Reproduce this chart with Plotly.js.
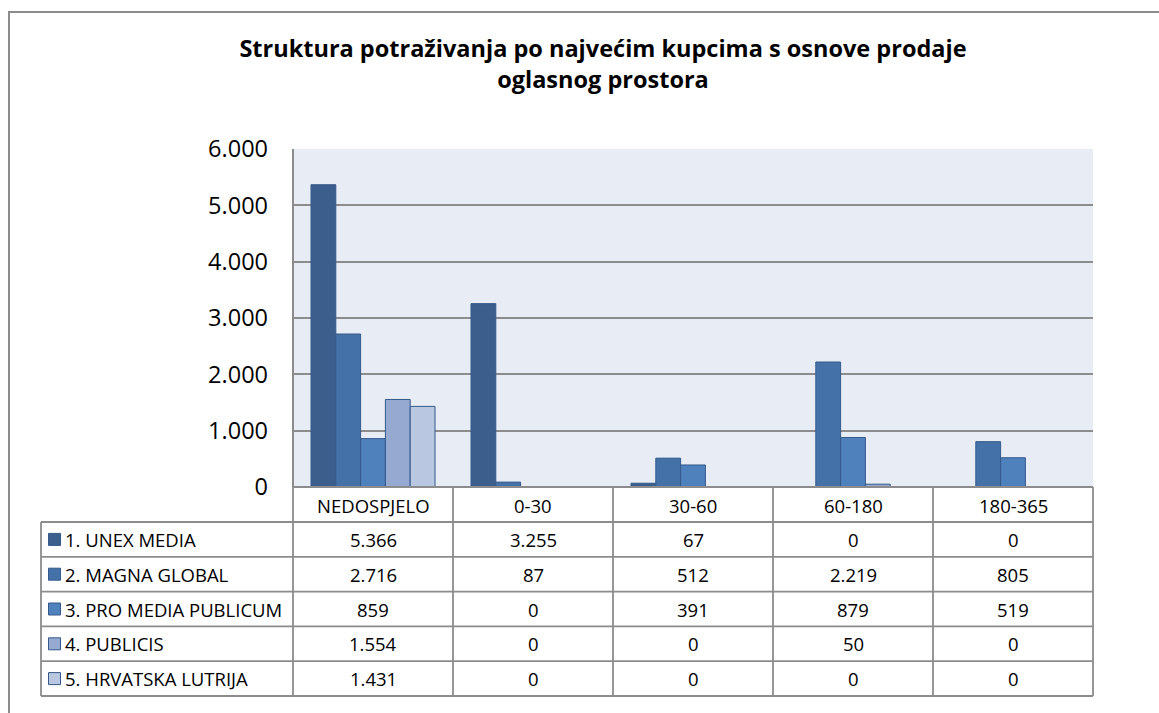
<!DOCTYPE html>
<html>
<head>
<meta charset="utf-8">
<script src="https://cdn.plot.ly/plotly-3.0.1.min.js"></script>
<style>html,body{margin:0;padding:0;background:#fff;}#chart{width:1159px;height:713px;}</style>
</head>
<body>
<div id="chart"></div>
<script>
const categories = ["NEDOSPJELO", "0-30", "30-60", "60-180", "180-365"];
const seriesNames = ["1. UNEX MEDIA", "2. MAGNA GLOBAL", "3. PRO MEDIA PUBLICUM", "4. PUBLICIS", "5. HRVATSKA LUTRIJA"];
const unexMedia = [5366, 3255, 67, 0, 0];
const magnaGlobal = [2716, 87, 512, 2219, 805];
const proMediaPublicum = [859, 0, 391, 879, 519];
const publicis = [1554, 0, 0, 50, 0];
const hrvatskaLutrija = [1431, 0, 0, 0, 0];
const yTicks = [0, 1000, 2000, 3000, 4000, 5000, 6000];
const yTickLabels = ["0", "1.000", "2.000", "3.000", "4.000", "5.000", "6.000"];
const titleText = "Struktura potraživanja po najvećim kupcima s osnove prodaje<br>oglasnog prostora";

const seriesValues = [unexMedia, magnaGlobal, proMediaPublicum, publicis, hrvatskaLutrija];
const colors = ["#3B5E8C", "#4472A8", "#4F81BD", "#95A9D1", "#B9C7E1"];
const outline = "#34598A";

const W = 1159, H = 713;
const PL = 293, PR = 1093, PT = 149, PB = 487;
const pw = PR - PL, ph = PB - PT;
const px = v => (v - PL) / pw;
const py = v => (PB - v) / ph;

function fmt(n) {
  return String(n).replace(/\B(?=(\d{3})+(?!\d))/g, ".");
}

const traces = seriesValues.map((vals, i) => ({
  type: "bar",
  name: seriesNames[i],
  x: categories,
  y: vals,
  marker: {color: colors[i], line: {color: outline, width: 1}},
  showlegend: false,
  hoverinfo: "skip"
}));

const shapes = [];
const annotations = [];
const gridC = "#8C8C8C";

shapes.push({type: "rect", xref: "paper", yref: "paper", x0: px(9), x1: px(1175), y0: py(730), y1: py(12),
  line: {color: "#8C8C8C", width: 2}, fillcolor: "rgba(0,0,0,0)", layer: "below"});
shapes.push({type: "line", xref: "paper", yref: "paper", x0: 0, x1: 0, y0: 0, y1: 1, line: {color: gridC, width: 2}});

const colW = pw / categories.length;
const headTop = PB, headBot = 522;
const rowH = (696 - 522) / seriesNames.length;
const labelLeft = 41;
const tableBot = 522 + rowH * seriesNames.length;
const tl = {color: "#8C8C8C", width: 1.8};
shapes.push({type: "line", xref: "paper", yref: "paper", x0: px(PL), x1: px(PR), y0: py(headTop), y1: py(headTop), line: tl});
for (let r = 0; r <= seriesNames.length; r++) {
  const y = 522 + r * rowH;
  shapes.push({type: "line", xref: "paper", yref: "paper", x0: px(labelLeft), x1: px(PR), y0: py(y), y1: py(y), line: tl});
}
shapes.push({type: "line", xref: "paper", yref: "paper", x0: px(labelLeft), x1: px(labelLeft), y0: py(headBot), y1: py(tableBot), line: tl});
for (let c = 0; c <= categories.length; c++) {
  const x = PL + c * colW;
  shapes.push({type: "line", xref: "paper", yref: "paper", x0: px(x), x1: px(x), y0: py(headTop), y1: py(tableBot), line: tl});
}
const tf = {family: "Open Sans, Noto Sans, sans-serif", size: 18.5, color: "#000"};
categories.forEach((c, j) => {
  annotations.push({xref: "paper", yref: "paper", x: px(PL + (j + 0.5) * colW), y: py((headTop + headBot) / 2 + 1),
    text: c, showarrow: false, font: tf, xanchor: "center", yanchor: "middle"});
});
seriesNames.forEach((nm, i) => {
  const yc = 522 + (i + 0.5) * rowH;
  shapes.push({type: "rect", xref: "paper", yref: "paper", x0: px(48.5), x1: px(60.5), y0: py(yc + 6), y1: py(yc - 6),
    fillcolor: colors[i], line: {color: outline, width: 1}});
  annotations.push({xref: "paper", yref: "paper", x: px(63), y: py(yc), text: nm, showarrow: false, font: tf,
    xanchor: "left", yanchor: "middle"});
  seriesValues[i].forEach((v, j) => {
    annotations.push({xref: "paper", yref: "paper", x: px(PL + (j + 0.5) * colW), y: py(yc),
      text: fmt(v), showarrow: false, font: tf, xanchor: "center", yanchor: "middle"});
  });
});

const layout = {
  width: W, height: H,
  margin: {l: PL, r: W - PR, t: PT, b: H - PB, pad: 0},
  paper_bgcolor: "#ffffff",
  plot_bgcolor: "#E8EDF5",
  barmode: "group",
  bargap: 0.225,
  bargroupgap: 0,
  separators: ",.",
  title: {text: titleText, x: 603 / W, xref: "container", xanchor: "center", y: 1 - 57 / H, yref: "container", yanchor: "middle",
    font: {family: "Open Sans, Noto Sans, sans-serif", size: 23.5, color: "#000", weight: "bold"}},
  xaxis: {type: "category", showticklabels: false, showgrid: false, zeroline: false, showline: false, ticks: ""},
  yaxis: {range: [0, 6000], tickvals: yTicks, ticktext: yTickLabels, showgrid: true, gridcolor: gridC, gridwidth: 2,
    zeroline: false, showline: false, ticks: "", ticklabelstandoff: 24,
    tickfont: {family: "Open Sans, Noto Sans, sans-serif", size: 23.5, color: "#000"}},
  shapes: shapes,
  annotations: annotations
};

Plotly.newPlot("chart", traces, layout, {displayModeBar: false, staticPlot: true});
</script>
</body>
</html>
